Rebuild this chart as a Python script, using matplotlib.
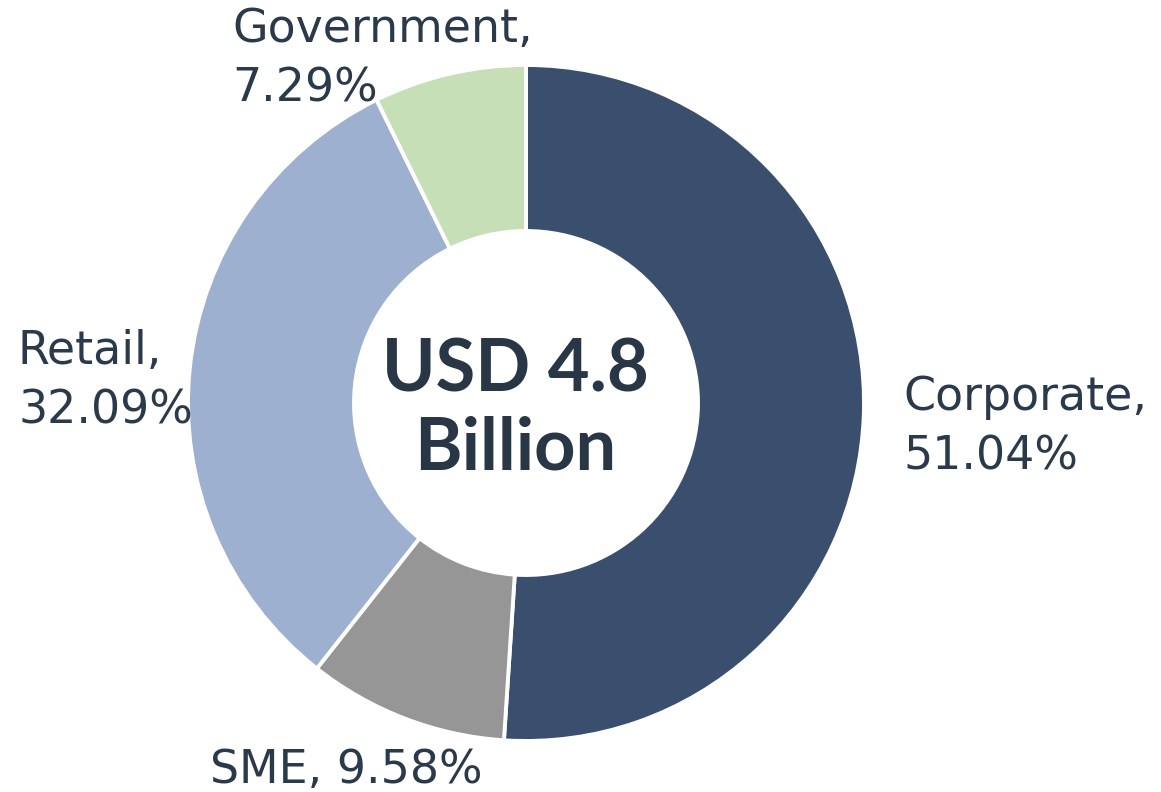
import matplotlib.pyplot as plt

segments = ['Corporate', 'SME', 'Retail', 'Government']
shares = [51.04, 9.58, 32.09, 7.29]
colors = ['#3A4F6E', '#969696', '#9DB0CF', '#C6DFB6']
center_label = 'USD 4.8\nBillion'

W, H = 1161, 792
fig = plt.figure(figsize=(W / 100, H / 100), dpi=100)
ax = fig.add_axes([0, 0, 1, 1])

cx, cy, r = 526, H - 403, 338
ax.pie(shares, colors=colors, startangle=90, counterclock=False,
       center=(cx, cy), radius=r,
       wedgeprops=dict(width=166, edgecolor='white', linewidth=2.8))
ax.set_xlim(0, W)
ax.set_ylim(0, H)
ax.set_aspect('equal')
ax.axis('off')

txt = '#2B3A4A'
lab = dict(fontsize=33, color=txt, family='DejaVu Sans', linespacing=1.4)
# label anchor positions (pixel coords from top-left)
pos = {'Corporate': (903, 427, 'left'),
       'SME': (210, 770, 'left'),
       'Retail': (18, 381, 'left'),
       'Government': (232, 59, 'left')}
for name, val in zip(segments, shares):
    x, y, ha = pos[name]
    if name == 'SME':
        s = f'{name}, {val:.2f}%'
    else:
        s = f'{name},\n{val:.2f}%'
    ax.text(x, H - y, s, ha=ha, va='center', **lab)

ax.text(515, H - 410, center_label, ha='center', va='center', fontsize=52,
        fontweight='bold', color='#283645', family='Lato', linespacing=1.2)

fig.savefig('out.png', dpi=100)
